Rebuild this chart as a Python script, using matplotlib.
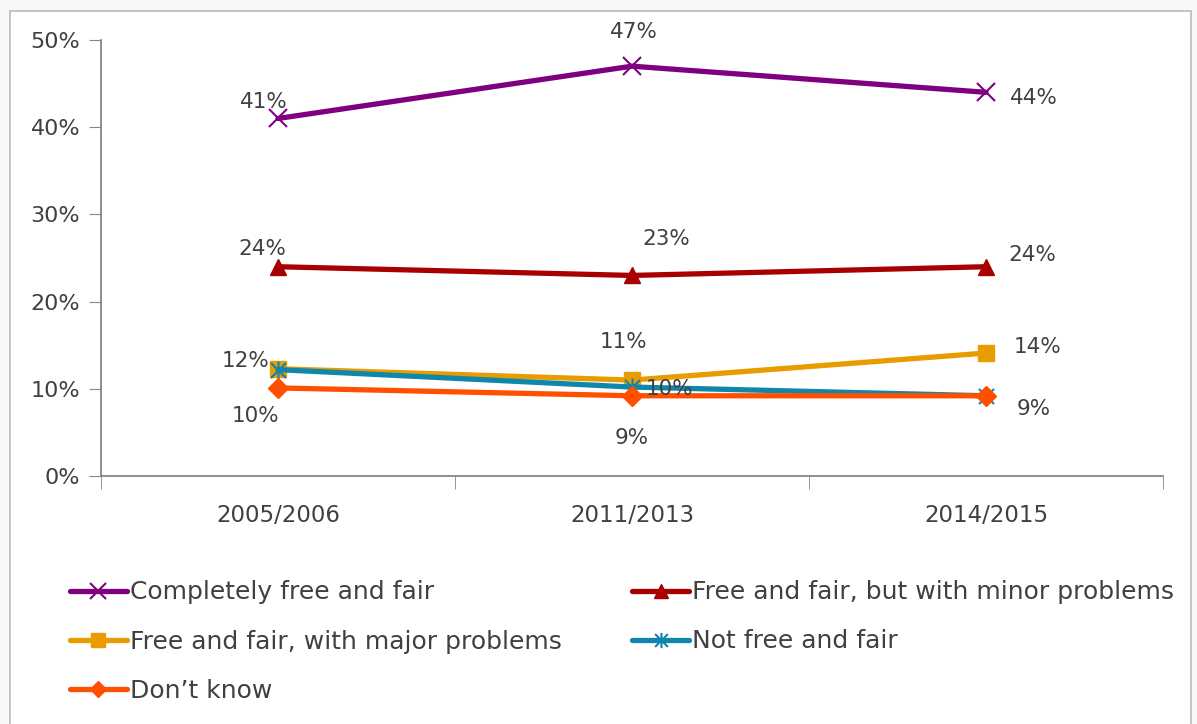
import matplotlib
matplotlib.use("Agg")
import matplotlib.pyplot as plt
from matplotlib.patches import Rectangle
from matplotlib.path import Path

periods = ["2005/2006", "2011/2013", "2014/2015"]
completely = [41, 47, 44]
minor = [24, 23, 24]
major = [12.3, 11.0, 14.1]
not_free = [12.2, 10.2, 9.2]
dont_know = [10.1, 9.2, 9.2]
yticks = [0, 10, 20, 30, 40, 50]

plt.rcParams['font.family'] = ['DejaVu Sans']
txt = '#404040'
W, H = 1197, 724
fig = plt.figure(figsize=(W/100, H/100), dpi=100)
fig.patch.set_facecolor('#faf7f7')
fig.patches.append(Rectangle((10/W, -0.1), (1191-10)/W, 1.1 - 11/H,
                             transform=fig.transFigure, facecolor='white',
                             edgecolor='#bbbbbb', linewidth=1.2, zorder=-10))

ax = fig.add_axes([101/W, 1-476/H, (1163-101)/W, (476-40)/H])
ax.set_facecolor('none')
ax.set_zorder(5)
x = list(range(len(periods)))

star = Path([(-1, -1), (1, 1), (-1, 1), (1, -1), (0, -1.2), (0, 1.2)],
            [Path.MOVETO, Path.LINETO, Path.MOVETO, Path.LINETO, Path.MOVETO, Path.LINETO])

series = [
    ("Completely free and fair", completely, '#7F007F', dict(marker='x', markersize=13, markeredgewidth=1.5)),
    ("Free and fair, but with minor problems", minor, '#A80000', dict(marker='^', markersize=12)),
    ("Free and fair, with major problems", major, '#E89C00', dict(marker='s', markersize=12)),
    ("Not free and fair", not_free, '#0F86AC', dict(marker=star, markersize=13, markeredgewidth=1.5)),
    ("Don\u2019t know", dont_know, '#FF4F00', dict(marker='D', markersize=10)),
]
handles = []
for name, vals, col, mk in series:
    h, = ax.plot(x, vals, color=col, linewidth=3.8, markerfacecolor=col,
                 markeredgecolor=col, label=name, solid_capstyle='round', **mk)
    handles.append(h)

ax.set_xlim(-0.5, 2.5)
ax.set_ylim(0, 50)
ax.set_yticks(yticks)
ax.set_yticklabels([f"{v}%" for v in yticks])
ax.set_xticks(x)
ax.set_xticklabels(periods)
ax.set_xticks([-0.5, 0.5, 1.5, 2.5], minor=True)
ax.tick_params(axis='x', which='major', length=0, pad=20, labelsize=16.5, labelcolor=txt)
ax.tick_params(axis='x', which='minor', length=9, color='#868686', direction='out')
ax.tick_params(axis='y', length=9, color='#868686', labelsize=16, labelcolor=txt, pad=6)
for s in ['top', 'right']:
    ax.spines[s].set_visible(False)
for s in ['left', 'bottom']:
    ax.spines[s].set_color('#868686')
    ax.spines[s].set_linewidth(1.3)

def lab(xi, v, dx, dy, ha='center'):
    ax.annotate(f"{round(v)}%", (xi, v), xytext=(dx, dy), textcoords='offset pixels',
                ha=ha, va='center', fontsize=15.5, color=txt, zorder=10)

# Completely
lab(0, completely[0], -14, 16)
lab(1, completely[1], 2, 34)
lab(2, completely[2], 48, -6)
# Minor
lab(0, minor[0], -16, 18)
lab(1, minor[1], 34, 36)
lab(2, minor[2], 46, 12)
# Major
lab(0, major[0], -32, 8)
lab(1, major[1], -8, 38)
lab(2, major[2], 52, 6)
# Not free
lab(1, not_free[1], 38, -2)
lab(2, not_free[2], 48, -13)
# Don't know
lab(0, dont_know[0], -22, -28)
lab(1, dont_know[1], 0, -42)

order = [0, 2, 4, 1, 3]
leg = fig.legend([handles[i] for i in order], [series[i][0] for i in order],
                 loc='upper left', bbox_to_anchor=(47/W, 1-558/H), ncol=2,
                 frameon=False, fontsize=18, handlelength=2.3, handletextpad=0.12,
                 columnspacing=2.8, labelspacing=1.0, labelcolor=txt, markerscale=0.85)

fig.savefig("out.png", dpi=100)
